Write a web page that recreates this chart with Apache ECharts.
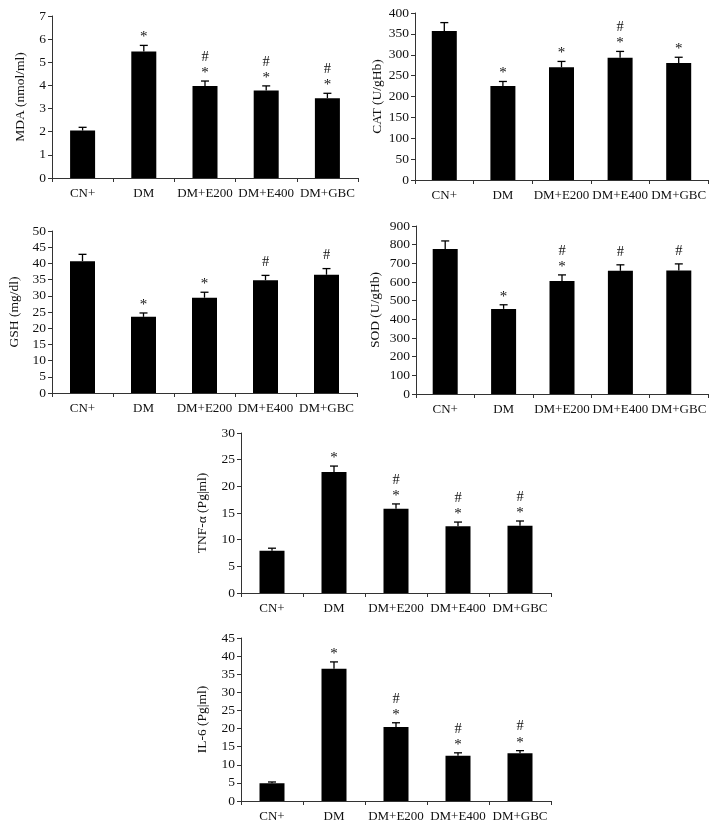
<!DOCTYPE html>
<html>
<head>
<meta charset="utf-8">
<script src="https://cdn.jsdelivr.net/npm/echarts@6/dist/echarts.min.js"></script>
<style>
html,body{margin:0;padding:0;background:#fff;}
#main{width:726px;height:828px;}
</style>
</head>
<body>
<div id="main"></div>
<script>
const categories = ['CN+', 'DM', 'DM+E200', 'DM+E400', 'DM+GBC'];

const mdaMean = [2.05, 5.47, 3.97, 3.78, 3.45];
const mdaErr  = [0.14, 0.26, 0.22, 0.20, 0.21];
const mdaMarks = ['', '*', '#*', '#*', '#*'];

const catMean = [357, 225, 270, 293, 280];
const catErr  = [20, 11, 14, 15, 14];
const catMarks = ['', '*', '*', '#*', '*'];

const gshMean = [40.7, 23.5, 29.4, 34.8, 36.5];
const gshErr  = [2.1, 1.2, 1.7, 1.5, 1.9];
const gshMarks = ['', '*', '*', '#', '#'];

const sodMean = [777, 456, 606, 660, 662];
const sodErr  = [43, 22, 32, 32, 35];
const sodMarks = ['', '*', '#*', '#', '#'];

const tnfMean = [7.9, 22.7, 15.8, 12.5, 12.6];
const tnfErr  = [0.5, 1.1, 0.9, 0.8, 0.9];
const tnfMarks = ['', '*', '#*', '#*', '#*'];

const il6Mean = [4.9, 36.5, 20.4, 12.5, 13.2];
const il6Err  = [0.35, 1.9, 1.2, 0.8, 0.7];
const il6Marks = ['', '*', '#*', '#*', '#*'];

const panels = [
  {name: 'MDA (nmol/ml)', mean: mdaMean, err: mdaErr, marks: mdaMarks, max: 7, interval: 1,
   grid: {left: 52, top: 16, width: 306, height: 162}, nameGap: 25},
  {name: 'CAT (U/gHb)', mean: catMean, err: catErr, marks: catMarks, max: 400, interval: 50,
   grid: {left: 415, top: 13, width: 293, height: 167}, nameGap: 25},
  {name: 'GSH (mg/dl)', mean: gshMean, err: gshErr, marks: gshMarks, max: 50, interval: 5,
   grid: {left: 52, top: 231, width: 305, height: 162}, nameGap: 31},
  {name: 'SOD (U/gHb)', mean: sodMean, err: sodErr, marks: sodMarks, max: 900, interval: 100,
   grid: {left: 416, top: 226, width: 292, height: 168}, nameGap: 34},
  {name: 'TNF-\u03b1 (Pg|ml)', mean: tnfMean, err: tnfErr, marks: tnfMarks, max: 30, interval: 5,
   grid: {left: 241, top: 433, width: 310, height: 160}, nameGap: 32},
  {name: 'IL-6 (Pg|ml)', mean: il6Mean, err: il6Err, marks: il6Marks, max: 45, interval: 5,
   grid: {left: 241, top: 638, width: 310, height: 163}, nameGap: 32}
];

const FONT = 'Liberation Serif';
const TXT = '#111';
const AX = '#333';

const grids = [], xAxes = [], yAxes = [], series = [];

panels.forEach((p, k) => {
  grids.push(Object.assign({containLabel: false}, p.grid));
  xAxes.push({
    type: 'category', gridIndex: k, data: categories,
    axisLine: {lineStyle: {color: AX, width: 1}},
    axisTick: {show: true, length: 4, lineStyle: {color: AX}},
    axisLabel: {color: TXT, fontFamily: FONT, fontSize: 13, margin: 9, interval: 0}
  });
  yAxes.push({
    type: 'value', gridIndex: k, min: 0, max: p.max, interval: p.interval,
    name: p.name, nameLocation: 'middle', nameGap: p.nameGap, nameRotate: 90,
    nameTextStyle: {color: TXT, fontFamily: FONT, fontSize: 13.5},
    axisLine: {show: true, lineStyle: {color: AX, width: 1}},
    axisTick: {show: true, length: 4, lineStyle: {color: AX}},
    axisLabel: {color: TXT, fontFamily: FONT, fontSize: 13.5, margin: 6},
    splitLine: {show: false}
  });
  series.push({
    type: 'bar', xAxisIndex: k, yAxisIndex: k, data: p.mean,
    barWidth: 25, itemStyle: {color: '#000'}, silent: true, animation: false
  });
  series.push({
    type: 'custom', xAxisIndex: k, yAxisIndex: k, animation: false, silent: true,
    data: p.mean.map((m, i) => [i, m, m + p.err[i]]),
    encode: {x: 0, y: [1, 2]},
    renderItem: function (params, api) {
      const i = api.value(0);
      const a = api.coord([i, api.value(1)]);
      const b = api.coord([i, api.value(2)]);
      const style = {stroke: '#000', lineWidth: 1.3};
      return {type: 'group', children: [
        {type: 'line', shape: {x1: a[0], y1: a[1], x2: b[0], y2: b[1]}, style: style},
        {type: 'line', shape: {x1: a[0] - 4, y1: b[1], x2: a[0] + 4, y2: b[1]}, style: style}
      ]};
    }
  });
  series.push({
    type: 'custom', xAxisIndex: k, yAxisIndex: k, animation: false, silent: true,
    data: p.mean.map((m, i) => [i, m + p.err[i]]),
    encode: {x: 0, y: 1},
    renderItem: function (params, api) {
      const i = api.value(0);
      const c = api.coord([i, api.value(1)]);
      const mk = p.marks[i];
      const children = [];
      const hasStar = mk.indexOf('*') >= 0, hasHash = mk.indexOf('#') >= 0;
      const ts = (t, y, size) => ({type: 'text', x: c[0], y: y,
        style: {text: t, fill: TXT, font: size + 'px "' + FONT + '"', align: 'center', verticalAlign: 'middle'}});
      if (hasStar) children.push(ts('*', c[1] - 8, 15));
      if (hasHash && hasStar) children.push(ts('#', c[1] - 24, 14.5));
      if (hasHash && !hasStar) children.push(ts('#', c[1] - 13, 14.5));
      return {type: 'group', children: children};
    }
  });
});

const chart = echarts.init(document.getElementById('main'), null, {renderer: 'canvas'});
chart.setOption({
  backgroundColor: '#fff',
  animation: false,
  grid: grids, xAxis: xAxes, yAxis: yAxes, series: series
});
</script>
</body>
</html>
